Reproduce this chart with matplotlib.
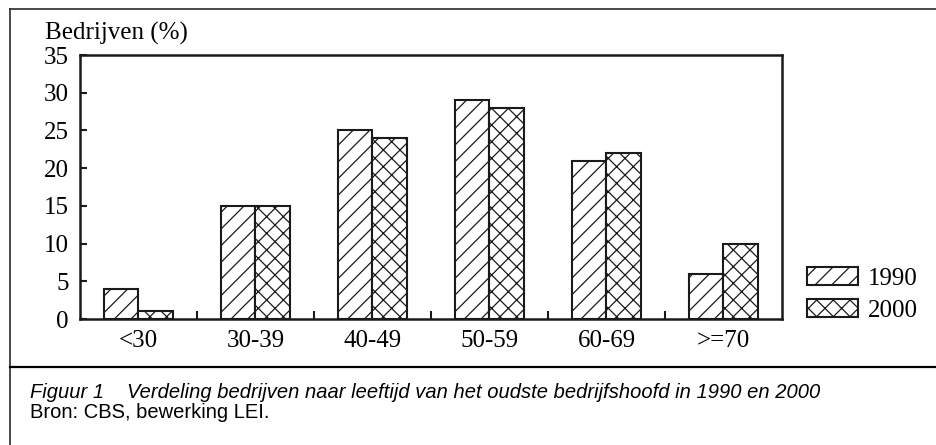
import matplotlib
matplotlib.use("Agg")
import matplotlib.pyplot as plt
from matplotlib.lines import Line2D
import numpy as np

categories = ["<30", "30-39", "40-49", "50-59", "60-69", ">=70"]
values_1990 = [4, 15, 25, 29, 21, 6]
values_2000 = [1, 15, 24, 28, 22, 10]
series_labels = ["1990", "2000"]
y_ticks = [0, 5, 10, 15, 20, 25, 30, 35]

W, H = 937, 445
plt.rcParams["hatch.linewidth"] = 0.9
plt.rcParams["font.family"] = ["Liberation Serif", "DejaVu Serif"]

fig = plt.figure(figsize=(W / 100, H / 100), dpi=100)

def fx(px):
    return px / W

def fy(py):
    return 1 - py / H

ax = fig.add_axes([fx(80), fy(319), fx(782) - fx(80), fy(55) - fy(319)])

x = np.arange(len(categories))
bw = 0.295
ax.bar(x - bw / 2, values_1990, bw, facecolor="white", edgecolor="#1a1a1a",
       linewidth=1.5, hatch="//", label=series_labels[0])
ax.bar(x + bw / 2, values_2000, bw, facecolor="white", edgecolor="#1a1a1a",
       linewidth=1.5, hatch="xx", label=series_labels[1])

ax.set_xlim(-0.5, len(categories) - 0.5)
ax.set_ylim(0, 35)
ax.set_yticks(y_ticks)
ax.set_yticklabels([str(t) for t in y_ticks], fontsize=18)
ax.tick_params(axis="y", direction="in", length=5, width=1.5, pad=8, color="#1a1a1a")

ax.set_xticks(np.arange(0.5, len(categories) - 0.5, 1.0))
ax.set_xticklabels([])
ax.tick_params(axis="x", which="major", direction="in", length=6, width=1.5, color="#1a1a1a")
ax.set_xticks(x, minor=True)
ax.set_xticklabels(categories, minor=True, fontsize=18)
ax.tick_params(axis="x", which="minor", length=0, pad=8)

for s in ax.spines.values():
    s.set_linewidth(1.8)
    s.set_color("#1a1a1a")

ax.legend(loc="upper left", bbox_to_anchor=(fx(807), fy(267)),
          bbox_transform=fig.transFigure, frameon=False, fontsize=18,
          handlelength=2.05, handleheight=0.72, handletextpad=0.4,
          labelspacing=0.38, borderpad=0, borderaxespad=0)

fig.text(fx(45), fy(40), "Bedrijven (%)", fontsize=18, ha="left", va="baseline")

# Frame lines
lc = "#2a2a2a"
fig.add_artist(Line2D([fx(10), 1.0], [fy(9), fy(9)], color=lc, lw=1.2, transform=fig.transFigure))
fig.add_artist(Line2D([fx(10), fx(10)], [fy(9), 0.0], color=lc, lw=1.2, transform=fig.transFigure))
fig.add_artist(Line2D([fx(10), 1.0], [fy(367), fy(367)], color="black", lw=1.6, transform=fig.transFigure))

cap_family = ["Liberation Sans Narrow", "Liberation Sans", "DejaVu Sans"]
fig.text(fx(30), fy(398), "Figuur 1", fontsize=14.5, style="italic", family=cap_family,
         ha="left", va="baseline")
fig.text(fx(127), fy(398), "Verdeling bedrijven naar leeftijd van het oudste bedrijfshoofd in 1990 en 2000",
         fontsize=14.5, style="italic", family=cap_family, ha="left", va="baseline")
fig.text(fx(30), fy(418), "Bron: CBS, bewerking LEI.", fontsize=14.5, family=cap_family,
         ha="left", va="baseline")

fig.savefig("out.png", dpi=100)
